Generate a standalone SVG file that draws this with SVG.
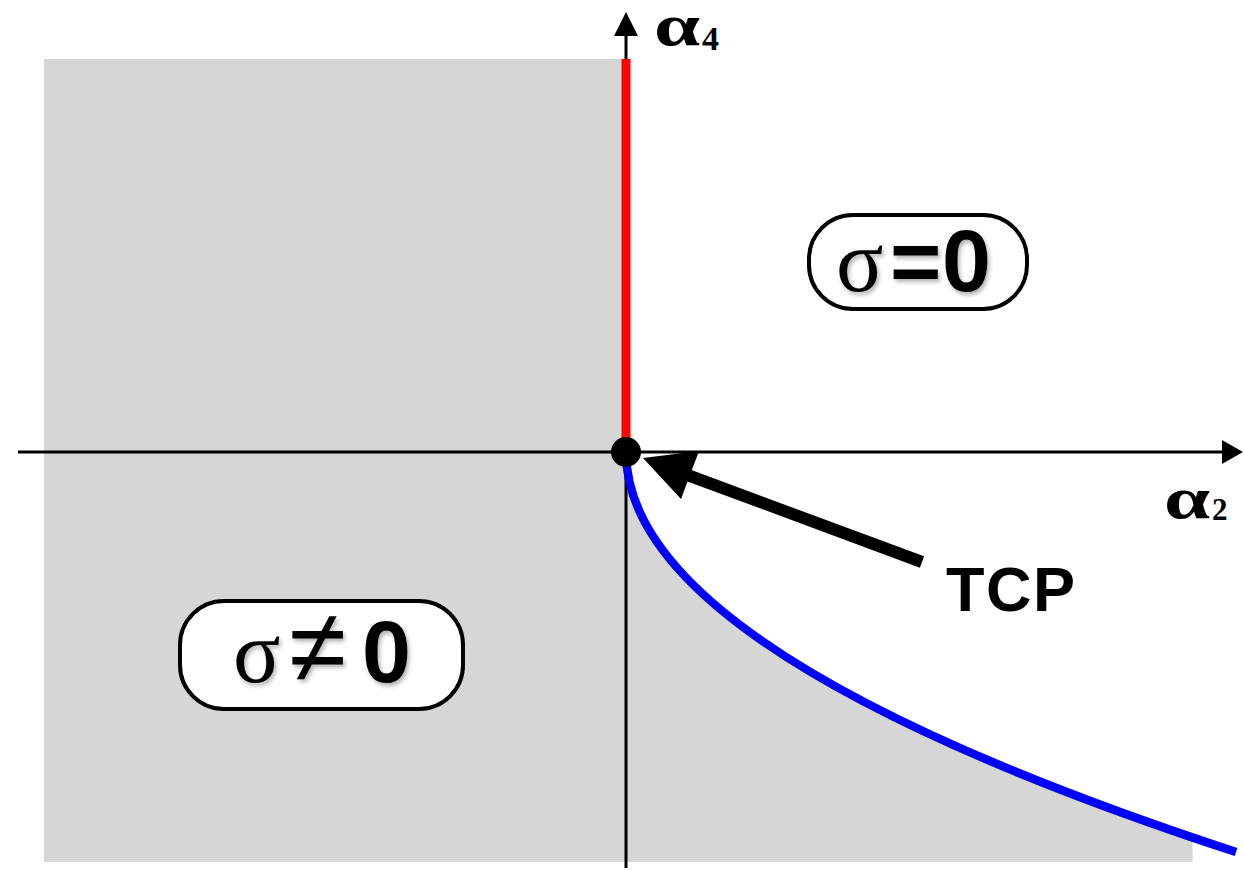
<svg xmlns="http://www.w3.org/2000/svg" width="1244" height="870" viewBox="0 0 1244 870">
  <style>
    .axis { stroke: #000; stroke-width: 3; fill: none; }
    .box { fill: #fff; stroke: #000; stroke-width: 4; }
    .sig { font-family: "Liberation Serif", serif; fill: #000; }
    .num { font-family: "Liberation Sans", sans-serif; fill: #000; }
    .alpha { font-family: "Liberation Serif", serif; font-weight: bold; font-size: 46px; fill: #000; }
    .sub { font-family: "Liberation Serif", serif; font-weight: bold; fill: #000; }
  </style>
  <defs>
    <filter id="soft" x="-10%" y="-10%" width="130%" height="130%">
      <feDropShadow dx="2" dy="3" stdDeviation="2" flood-color="#000" flood-opacity="0.3"/>
    </filter>
  </defs>

  <!-- shaded region: left half plane plus area under the curve -->
  <g id="region">
    <path d="M44,59 H626 V452 Q626,644.6 1192.6,837.2 V862 H44 Z" fill="#d6d6d6"/>
  </g>

  <g id="axes">
    <line class="axis" x1="18" y1="452" x2="1226" y2="452"/>
    <path d="M1243,452 L1222,440 L1222,464 Z" fill="#000"/>
    <line class="axis" x1="626" y1="868" x2="626" y2="30"/>
    <path d="M626,12 L614,36 L638,36 Z" fill="#000"/>
  </g>

  <g id="connectors">
    <line x1="626" y1="59" x2="626" y2="452" stroke="#ff0000" stroke-width="9"/>
    <path d="M626,452 Q626,652 1236,852" fill="none" stroke="#0000ff" stroke-width="8.5"/>
    <line x1="922" y1="562" x2="682" y2="473" stroke="#000" stroke-width="12"/>
    <path d="M643,458 L699,451 L681,499 Z" fill="#000"/>
  </g>

  <g id="tcp-point">
    <circle cx="626" cy="452" r="15" fill="#000"/>
  </g>

  <g id="label-alpha4">
    <text class="alpha" transform="translate(654,45) scale(1.8,1.3)">α</text>
    <text class="sub" x="702" y="50" font-size="34">4</text>
  </g>
  <g id="label-alpha2">
    <text class="alpha" transform="translate(1164,518) scale(1.8,1.3)">α</text>
    <text class="sub" x="1212" y="520" font-size="31">2</text>
  </g>

  <g id="node-sigma-zero">
    <rect class="box" x="809" y="215" width="218" height="94" rx="44"/>
    <g filter="url(#soft)">
      <text y="291" font-size="88"><tspan class="sig" x="836">σ</tspan><tspan class="num" font-weight="bold" x="890">=</tspan><tspan class="num" font-weight="bold" x="942">0</tspan></text>
    </g>
  </g>

  <g id="node-sigma-nonzero">
    <rect class="box" x="180" y="601" width="283" height="108" rx="44"/>
    <g filter="url(#soft)">
      <text y="682" font-size="88"><tspan class="sig" x="233">σ</tspan><tspan class="num" font-size="104" x="289">≠</tspan><tspan class="num" font-weight="bold" x="362">0</tspan></text>
    </g>
  </g>

  <g id="label-tcp">
    <text x="946" y="611" font-family="Liberation Sans, sans-serif" font-weight="bold" font-size="63" letter-spacing="1.5" fill="#000">TCP</text>
  </g>
</svg>
